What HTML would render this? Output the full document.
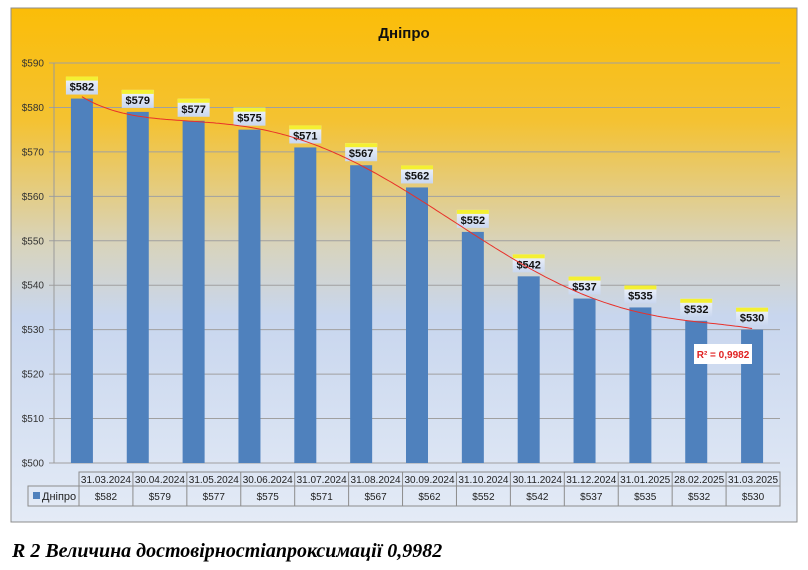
<!DOCTYPE html>
<html><head><meta charset="utf-8"><style>
body{margin:0;width:808px;height:570px;background:#fff;overflow:hidden;position:relative;font-family:"Liberation Sans",sans-serif}
#cap{position:absolute;left:12px;top:540px;font-family:"Liberation Serif",serif;font-weight:bold;font-style:italic;font-size:20px;color:#000;white-space:nowrap}
</style></head><body>
<svg id="s" width="808" height="570" style="position:absolute;left:0;top:0" xmlns="http://www.w3.org/2000/svg">
<defs>
<linearGradient id="g" x1="0" y1="0" x2="0" y2="1">
<stop offset="0" stop-color="#fbbd08"/>
<stop offset="0.22" stop-color="#f4c232"/>
<stop offset="0.45" stop-color="#d9d3b8"/>
<stop offset="0.6" stop-color="#c8d6ee"/>
<stop offset="1" stop-color="#e4ebf6"/>
</linearGradient>
<linearGradient id="lb" x1="0" y1="0" x2="0" y2="1">
<stop offset="0" stop-color="#f2f5fb"/><stop offset="1" stop-color="#c9d7ef"/>
</linearGradient>
</defs>
<rect x="11" y="8" width="786" height="514" fill="url(#g)" stroke="#8c8c8c" stroke-width="1"/>
<text x="404" y="38" text-anchor="middle" font-size="15" font-weight="bold" fill="#111">Дніпро</text>
<g id="c"></g>
</svg>
<div id="cap">R 2 Величина достовірностіапроксимації 0,9982</div>
<script>
var v=[582,579,577,575,571,567,562,552,542,537,535,532,530];
var d=["31.03.2024","30.04.2024","31.05.2024","30.06.2024","31.07.2024","31.08.2024","30.09.2024","31.10.2024","30.11.2024","31.12.2024","31.01.2025","28.02.2025","31.03.2025"];
var h='';var L=54,R=780,T=63,B=463;
function Y(x){return B-(x-500)*400/90;}
for(var i=0;i<=9;i++){var y=B-i*400/9;h+='<line x1="'+(L-5)+'" y1="'+y+'" x2="'+R+'" y2="'+y+'" stroke="#a0a0a0" stroke-width="1"/>';
h+='<text x="'+(L-10)+'" y="'+(y+3.5)+'" text-anchor="end" font-size="10" fill="#333">$'+(500+i*10)+'</text>';}
h+='<line x1="'+L+'" y1="'+T+'" x2="'+L+'" y2="'+B+'" stroke="#9a9a9a"/>';
var cw=(R-L)/13,pts=[];
for(i=0;i<13;i++){var cx=L+cw*(i+0.5),ty=Y(v[i]);pts.push([cx,ty]);
h+='<rect x="'+(cx-11)+'" y="'+ty+'" width="22" height="'+(B-ty)+'" fill="#4f81bd"/>';
h+='<rect x="'+(cx-16)+'" y="'+(ty-22)+'" width="32" height="18" fill="url(#lb)"/><rect x="'+(cx-16)+'" y="'+(ty-22)+'" width="32" height="4" fill="#f4f032"/>';
h+='<text x="'+cx+'" y="'+(ty-8)+'" text-anchor="middle" font-size="11" font-weight="bold" fill="#111">$'+v[i]+'</text>';}
// polynomial fit degree 5
var n=6,A=[],bb=[];
for(var r=0;r<n;r++){A.push([]);for(var c=0;c<n;c++){var s=0;for(i=0;i<13;i++)s+=Math.pow(i/12,r+c);A[r].push(s);}var t=0;for(i=0;i<13;i++)t+=v[i]*Math.pow(i/12,r);bb.push(t);}
for(var k=0;k<n;k++){for(r=k+1;r<n;r++){var f=A[r][k]/A[k][k];for(c=k;c<n;c++)A[r][c]-=f*A[k][c];bb[r]-=f*bb[k];}}
var co=new Array(n);for(r=n-1;r>=0;r--){var s=bb[r];for(c=r+1;c<n;c++)s-=A[r][c]*co[c];co[r]=s/A[r][r];}
var p='';for(var q=0;q<=240;q++){var xx=q/240*12,u=xx/12,val=0;for(c=0;c<n;c++)val+=co[c]*Math.pow(u,c);p+=(q?'L':'M')+(L+cw*(xx+0.5)).toFixed(1)+','+Y(val).toFixed(1);}
h+='<path d="'+p+'" fill="none" stroke="#e8312a" stroke-width="1"/>';
h+='<rect x="694" y="344" width="58" height="20" fill="#fff"/><text x="723" y="358" text-anchor="middle" font-size="10" font-weight="bold" fill="#e02020">R² = 0,9982</text>';
var tx=79,tw=(R-tx)/13;
h+='<rect x="'+tx+'" y="472" width="'+(R-tx)+'" height="14" fill="none" stroke="#8c8c8c"/>';
h+='<rect x="28" y="486" width="'+(R-28)+'" height="20" fill="none" stroke="#8c8c8c"/>';
h+='<line x1="'+tx+'" y1="472" x2="'+tx+'" y2="506" stroke="#8c8c8c"/>';
h+='<rect x="33" y="492" width="7" height="7" fill="#4f81bd"/><text x="42" y="500" font-size="11" fill="#222">Дніпро</text>';
for(i=0;i<13;i++){var x=tx+tw*i;h+='<line x1="'+(x+tw)+'" y1="472" x2="'+(x+tw)+'" y2="506" stroke="#8c8c8c"/>';
h+='<text x="'+(x+tw/2)+'" y="483" text-anchor="middle" font-size="10" fill="#222">'+d[i]+'</text>';
h+='<text x="'+(x+tw/2)+'" y="500" text-anchor="middle" font-size="10" fill="#222">$'+v[i]+'</text>';}
document.getElementById('c').innerHTML=h;
</script>
</body></html>
